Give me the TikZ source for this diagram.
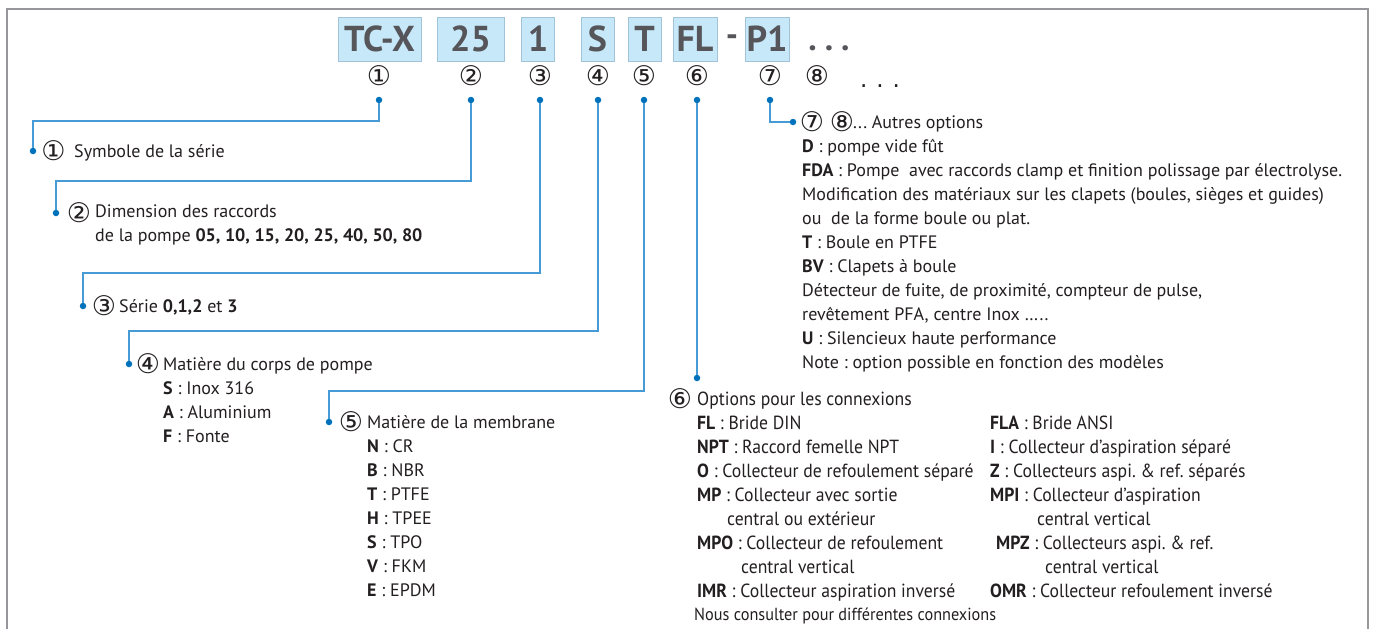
\documentclass[tikz,border=0pt]{standalone}
\usepackage{fontspec}
\setmainfont{PT Sans}
\newfontfamily\circfont{DejaVu Sans}
\newfontfamily\narrowfont[FakeStretch=0.93]{PT Sans}
\usetikzlibrary{positioning}
\frenchspacing
\definecolor{tcblue}{RGB}{0,114,188}
\definecolor{tcline}{RGB}{70,155,215}
\definecolor{tcfill}{RGB}{198,232,248}
\definecolor{tcedge}{RGB}{160,195,215}
\definecolor{tcgray}{RGB}{85,85,90}
\definecolor{tcframe}{RGB}{150,150,155}
\definecolor{tctext}{RGB}{35,31,32}

\tikzset{
  codebox/.style={draw=tcedge, fill=tcfill, line width=1pt, minimum height=44, inner sep=0pt,
    font=\fontsize{36}{36}\selectfont\bfseries, text=tcgray},
  codemark/.style={inner sep=0pt, font=\fontsize{34}{34}\selectfont\bfseries, text=tcgray},
  num/.style={inner sep=0pt, font=\circfont\fontsize{27}{27}\selectfont, text=tctext},
  pin/.style={circle, fill=tcblue, inner sep=0pt, minimum size=6.5},
  link/.style={draw=tcline, line width=1.4pt},
  frame/.style={draw=tcframe, line width=2.2pt},
  legend/.style={align=left, inner sep=0pt, anchor=base west, text=tctext,
    font=\fontsize{18}{24}\selectfont},
  legendnarrow/.style={legend, font=\narrowfont\fontsize{19}{24}\selectfont},
}

\begin{document}
\begin{tikzpicture}[x=1pt, y=-1pt]
    \useasboundingbox (0,0) rectangle (1375,629);
    \draw[frame] (7,629) -- (7,9) -- (1368,9) -- (1368,629);

    % reference code
    \node[codebox, minimum width=83] (bxA) at (379.5,39) {TC-X};
    \node[codebox, minimum width=67] (bxB) at (470.5,39) {25};
    \node[codebox, minimum width=33] (bxC) at (538,39) {1};
    \node[codebox, minimum width=33] (bxD) at (597.5,39) {S};
    \node[codebox, minimum width=33] (bxE) at (644.5,39) {T};
    \node[codebox, minimum width=44] (bxF) at (695,39) {FL};
    \node[codemark] (dash) at (732,41) {-};
    \node[codebox, minimum width=44] (bxG) at (767,39) {P1};
    \node[codemark] (more) at (829,48) {.\hspace{8pt}.\hspace{8pt}.};

    % numbers under the code
    \node[num] (n1) at (379,76) {①};
    \node[num] (n2) at (471,76) {②};
    \node[num] (n3) at (540,76) {③};
    \node[num] (n4) at (598,76) {④};
    \node[num] (n5) at (644,76) {⑤};
    \node[num] (n6) at (697,76) {⑥};
    \node[num] (n7) at (770,76) {⑦};
    \node[num] (n8) at (817,76) {⑧};
    \node[num, font=\circfont\fontsize{23}{23}\selectfont] (n9) at (880,86) {.\hspace{9pt}.\hspace{9pt}.};

    % pins
    \node[pin] (d1) at (379,100) {};
    \node[pin] (d2) at (471,100) {};
    \node[pin] (d3) at (540,100) {};
    \node[pin] (d4) at (598,100) {};
    \node[pin] (d5) at (644,100) {};
    \node[pin] (d6) at (697,100) {};
    \node[pin] (d7) at (770,100) {};

    \node[pin] (e1) at (33,151) {};
    \node[pin] (e2) at (56,213) {};
    \node[pin] (e3) at (83,306) {};
    \node[pin] (e4) at (129,364) {};
    \node[pin] (e5) at (329,422) {};
    \node[pin] (e6) at (697,378) {};
    \node[pin] (e7) at (793,122) {};

    \draw[link] (d1) -- (d1 |- 0,121) -| (e1);
    \draw[link] (d2) -- (d2 |- 0,181) -| (e2);
    \draw[link] (d3) -- (d3 |- 0,273) -| (e3);
    \draw[link] (d4) -- (d4 |- 0,331) -| (e4);
    \draw[link] (d5) -- (d5 |- 0,391) -| (e5);
    \draw[link] (d6) -- (e6);
    \draw[link] (d7) |- (e7);

    % legend (multi-line nodes sit on their last baseline)
    \node[num] (l1) at (53.5,151) {①};
    \node[legend] (t1) at (74,157) {Symbole de la série};
    \node[num] (l2) at (79,213) {②};
    \node[legend] (t2) at (95,241) {Dimension des raccords\\
        de la pompe \textbf{05, 10, 15, 20, 25, 40, 50, 80}};
    \node[num] (l3) at (104,306) {③};
    \node[legend] (t3) at (119,312) {Série \textbf{0,1,2} et \textbf{3}};
    \node[num] (l4) at (148,364) {④};
    \node[legend] (t4) at (163,442) {Matière du corps de pompe\\
        \textbf{S} : Inox 316\\ \textbf{A} : Aluminium\\ \textbf{F} : Fonte};
    \node[num] (l5) at (351,422) {⑤};
    \node[legend] (t5) at (367,596) {Matière de la membrane\\
        \textbf{N} : CR\\ \textbf{B} : NBR\\ \textbf{T} : PTFE\\ \textbf{H} : TPEE\\
        \textbf{S} : TPO\\ \textbf{V} : FKM\\ \textbf{E} : EPDM};

    \node[num] (l6) at (680,399) {⑥};
    \node[legendnarrow] (t6) at (697,405) {Options pour les connexions};
    \node[legendnarrow] (t6a) at (697,597) {\textbf{FL} : Bride DIN\\
        \textbf{NPT} : Raccord femelle NPT\\
        \textbf{O} : Collecteur de refoulement séparé\\
        \textbf{MP} : Collecteur avec sortie\\
        \hspace{30pt}central ou extérieur\\
        \textbf{MPO} : Collecteur de refoulement\\
        \hspace{44pt}central vertical\\
        \textbf{IMR} : Collecteur aspiration inversé};
    \node[legendnarrow] (t6b) at (990,597) {\textbf{FLA} : Bride ANSI\\
        \textbf{I} : Collecteur d’aspiration séparé\\
        \textbf{Z} : Collecteurs aspi. \& ref. séparés\\
        \textbf{MPI} : Collecteur d’aspiration\\
        \hspace{47pt}central vertical\\
        \hspace{6pt}\textbf{MPZ} : Collecteurs aspi. \& ref.\\
        \hspace{55pt}central vertical\\
        \textbf{OMR} : Collecteur refoulement inversé};
    \node[legendnarrow, font=\narrowfont\fontsize{17.5}{24}\selectfont] (t6c) at (694,620)
        {Nous consulter pour différentes connexions};

    \node[num] (l7) at (812,122) {⑦};
    \node[num] (l8) at (842,122) {⑧};
    \node[legend] (t7) at (853,128) {... Autres options};
    \node[legend] (t7a) at (802,368) {\textbf{D} : pompe vide fût\\
        \textbf{FDA} : Pompe~ avec raccords clamp et finition polissage par électrolyse.\\
        Modification des matériaux sur les clapets (boules, sièges et guides)\\
        ou~ de la forme boule ou plat.\\
        \textbf{T} : Boule en PTFE\\
        \textbf{BV} : Clapets à boule\\
        Détecteur de fuite, de proximité, compteur de pulse,\\
        revêtement PFA, centre Inox …..\\
        \textbf{U} : Silencieux haute performance\\
        Note : option possible en fonction des modèles};
\end{tikzpicture}
\end{document}
